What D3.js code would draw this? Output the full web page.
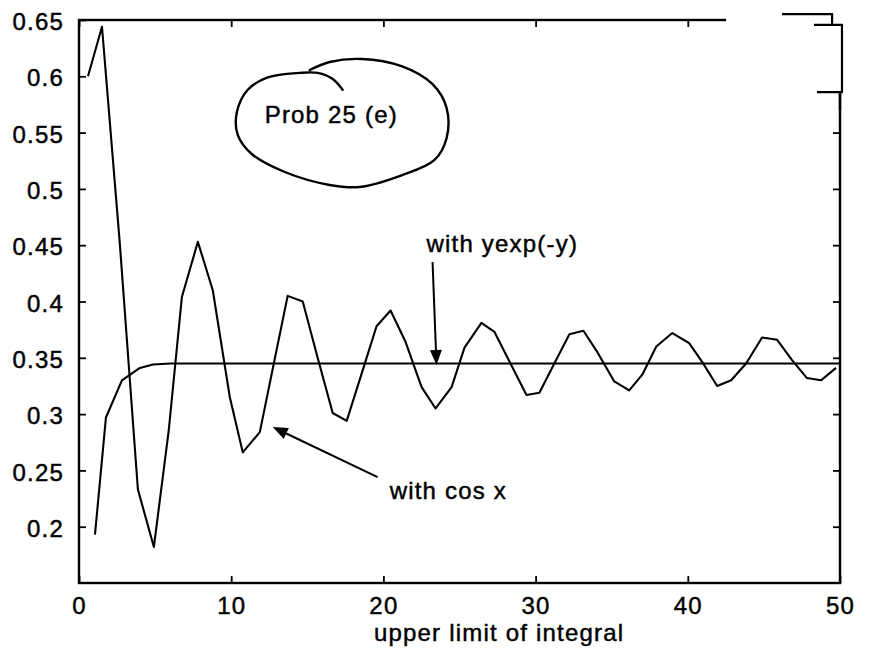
<!DOCTYPE html>
<html><head><meta charset="utf-8">
<script src="https://cdn.jsdelivr.net/npm/d3@7"></script>
<style>
body{margin:0;background:#fff}
text{font-family:"Liberation Sans",Arial,Helvetica,sans-serif;fill:#000;stroke:#000;stroke-width:0.45px}
</style>
</head><body>
<svg id="chart" width="874" height="655"></svg>
<script>
// ---- data ----
const cosUpperLimit = [0.59,1.51,2.69,3.87,4.92,5.90,6.76,7.81,8.79,9.91,10.76,11.88,12.80,13.71,14.70,15.68,16.67,17.59,18.57,19.55,20.47,21.46,22.51,23.43,24.48,25.33,26.44,27.30,28.35,29.40,30.25,31.23,32.22,33.14,34.06,35.17,36.15,37.01,37.93,38.98,40.09,41.01,41.93,42.85,43.83,44.88,45.87,46.85,47.83,48.75,49.74];
const cosValues = [0.600,0.644,0.450,0.233,0.182,0.286,0.404,0.453,0.410,0.315,0.266,0.284,0.345,0.405,0.400,0.350,0.301,0.294,0.336,0.378,0.392,0.364,0.324,0.305,0.324,0.359,0.381,0.373,0.345,0.317,0.319,0.345,0.371,0.374,0.355,0.329,0.321,0.335,0.360,0.372,0.363,0.345,0.325,0.330,0.345,0.368,0.366,0.348,0.332,0.330,0.341];
const expUpperLimit = [1.05,1.77,2.82,4.0,4.86,6,7,8,9,10,11,12,13,14,15,16,17,18,19,20,21,22,23,24,25,26,27,28,29,30,31,32,33,34,35,36,37,38,39,40,41,42,43,44,45,46,47,48,49,50];
const expValues = [0.193,0.297,0.330,0.341,0.344,0.345,0.345,0.345,0.345,0.345,0.345,0.345,0.345,0.345,0.345,0.345,0.345,0.345,0.345,0.345,0.345,0.345,0.345,0.345,0.345,0.345,0.345,0.345,0.345,0.345,0.345,0.345,0.345,0.345,0.345,0.345,0.345,0.345,0.345,0.345,0.345,0.345,0.345,0.345,0.345,0.345,0.345,0.345,0.345,0.345];
const xTicks = [0,10,20,30,40,50];
const xTickLabels = ["0","10","20","30","40","50"];
const yTicks = [0.2,0.25,0.3,0.35,0.4,0.45,0.5,0.55,0.6,0.65];
const yTickLabels = ["0.2","0.25","0.3","0.35","0.4","0.45","0.5","0.55","0.6","0.65"];
const xLabel = "upper limit of integral";
const titleNote = "Prob 25 (e)";
const cosNote = "with cos x";
const expNote = "with yexp(-y)";
// hand-drawn loop around the note, in data units
const loopX = [17.32,16.67,15.68,14.50,12.40,11.09,10.37,10.43,11.35,13.52,16.47,18.44,21.19,23.36,24.15,24.15,23.23,21.19,18.57,16.47,15.16];
const loopY = [0.588,0.5976,0.603,0.603,0.599,0.588,0.568,0.548,0.531,0.515,0.5035,0.5017,0.512,0.5257,0.545,0.572,0.593,0.609,0.6154,0.6127,0.6056];
// scanned paste-patch at the top-right corner of the frame, in data units
const patchX = [46.19,49.48,49.48,48.29,50.13,50.13,48.49];
const patchY = [0.6553,0.6553,0.6456,0.6456,0.6456,0.586,0.586];

// ---- layout ----
const W = 874, H = 655;
const margin = {left:79, right:34, top:20, bottom:72};
const svg = d3.select("#chart");
const x = d3.scaleLinear().domain([0,50]).range([margin.left, W - margin.right]);
const y = d3.scaleLinear().domain([0.15,0.65]).range([H - margin.bottom, margin.top]);
const FS = 24, LS = 1.2;

// axes (inward ticks, MATLAB style)
const gx = svg.append("g").attr("transform",`translate(0,${y(0.15)})`)
  .call(d3.axisBottom(x).tickValues(xTicks).tickFormat((d,i)=>xTickLabels[i]).tickSizeInner(-7).tickSizeOuter(0).tickPadding(14));
const gxt = svg.append("g").attr("transform",`translate(0,${y(0.65)})`)
  .call(d3.axisTop(x).tickValues(xTicks).tickFormat("").tickSizeInner(-7).tickSizeOuter(0));
const gy = svg.append("g").attr("transform",`translate(${x(0)},0)`)
  .call(d3.axisLeft(y).tickValues(yTicks).tickFormat((d,i)=>yTickLabels[i]).tickSizeInner(-7).tickSizeOuter(0).tickPadding(15));
const gyr = svg.append("g").attr("transform",`translate(${x(50)},0)`)
  .call(d3.axisRight(y).tickValues(yTicks).tickFormat("").tickSizeInner(-7).tickSizeOuter(0));
[gx,gxt,gy,gyr].forEach(g=>{
  g.select(".domain").remove();
  g.selectAll(".tick line").attr("stroke","#000").attr("stroke-width",1.8);
  g.selectAll("text").attr("font-size",FS).attr("letter-spacing",LS)
    .style("font-family","'Liberation Sans',Arial,sans-serif").attr("fill","#000");
});
gy.selectAll("text").attr("dy","0.4em");

// frame
svg.append("rect").attr("x",x(0)).attr("y",y(0.65))
  .attr("width",x(50)-x(0)).attr("height",y(0.15)-y(0.65))
  .attr("fill","none").attr("stroke","#000").attr("stroke-width",2.4);
// scan artefact: gap in the top edge and the offset patch
svg.append("rect").attr("x",x(42.52)).attr("y",y(0.6535)).attr("width",x(50.4)-x(42.52)).attr("height",y(0.586)-y(0.6535))
  .attr("fill","#fff");
svg.append("line").attr("x1",x(50)).attr("x2",x(50)).attr("y1",y(0.587)).attr("y2",y(0.57))
  .attr("stroke","#000").attr("stroke-width",2.4);
svg.append("path").datum(patchX.map((u,i)=>[u,patchY[i]]))
  .attr("d",d3.line().x(d=>x(d[0])).y(d=>y(d[1])))
  .attr("fill","none").attr("stroke","#000").attr("stroke-width",2.2);

// series
const line = d3.line().x(d=>x(d[0])).y(d=>y(d[1]));
svg.append("path").datum(cosUpperLimit.map((u,i)=>[u,cosValues[i]]))
  .attr("d",line).attr("fill","none").attr("stroke","#000").attr("stroke-width",2.1).attr("stroke-linejoin","round");
svg.append("path").datum(expUpperLimit.map((u,i)=>[u,expValues[i]]))
  .attr("d",line).attr("fill","none").attr("stroke","#000").attr("stroke-width",2.1).attr("stroke-linejoin","round");

// x label
svg.append("text").attr("x",x(27.6)).attr("y",641).attr("text-anchor","middle")
  .attr("font-size",FS).attr("letter-spacing",LS).text(xLabel);

// note with loop
svg.append("path").datum(loopX.map((u,i)=>[u,loopY[i]]))
  .attr("d",d3.line().x(d=>x(d[0])).y(d=>y(d[1])).curve(d3.curveCatmullRom))
  .attr("fill","none").attr("stroke","#000").attr("stroke-width",2.4).attr("stroke-linecap","round");
svg.append("text").attr("x",x(12.2)).attr("y",y(0.5585)).attr("font-size",FS).attr("letter-spacing",LS).text(titleNote);

// arrows
function arrow(x1,y1,x2,y2){
  const X1=x(x1),Y1=y(y1),X2=x(x2),Y2=y(y2);
  const a=Math.atan2(Y2-Y1,X2-X1), L=15, Wd=6;
  const bx=X2-L*Math.cos(a), by=Y2-L*Math.sin(a);
  svg.append("line").attr("x1",X1).attr("y1",Y1).attr("x2",bx).attr("y2",by)
    .attr("stroke","#000").attr("stroke-width",2);
  svg.append("path").attr("d",`M${X2},${Y2}L${bx+Wd*Math.sin(a)},${by-Wd*Math.cos(a)}L${bx-Wd*Math.sin(a)},${by+Wd*Math.cos(a)}Z`)
    .attr("fill","#000");
}
arrow(23.23,0.435,23.49,0.3436);
arrow(19.62,0.244,12.73,0.2885);
svg.append("text").attr("x",x(22.83)).attr("y",y(0.444)).attr("font-size",FS).attr("letter-spacing",LS).text(expNote);
svg.append("text").attr("x",x(20.41)).attr("y",y(0.225)).attr("font-size",FS).attr("letter-spacing",LS).text(cosNote);
</script>
</body></html>
